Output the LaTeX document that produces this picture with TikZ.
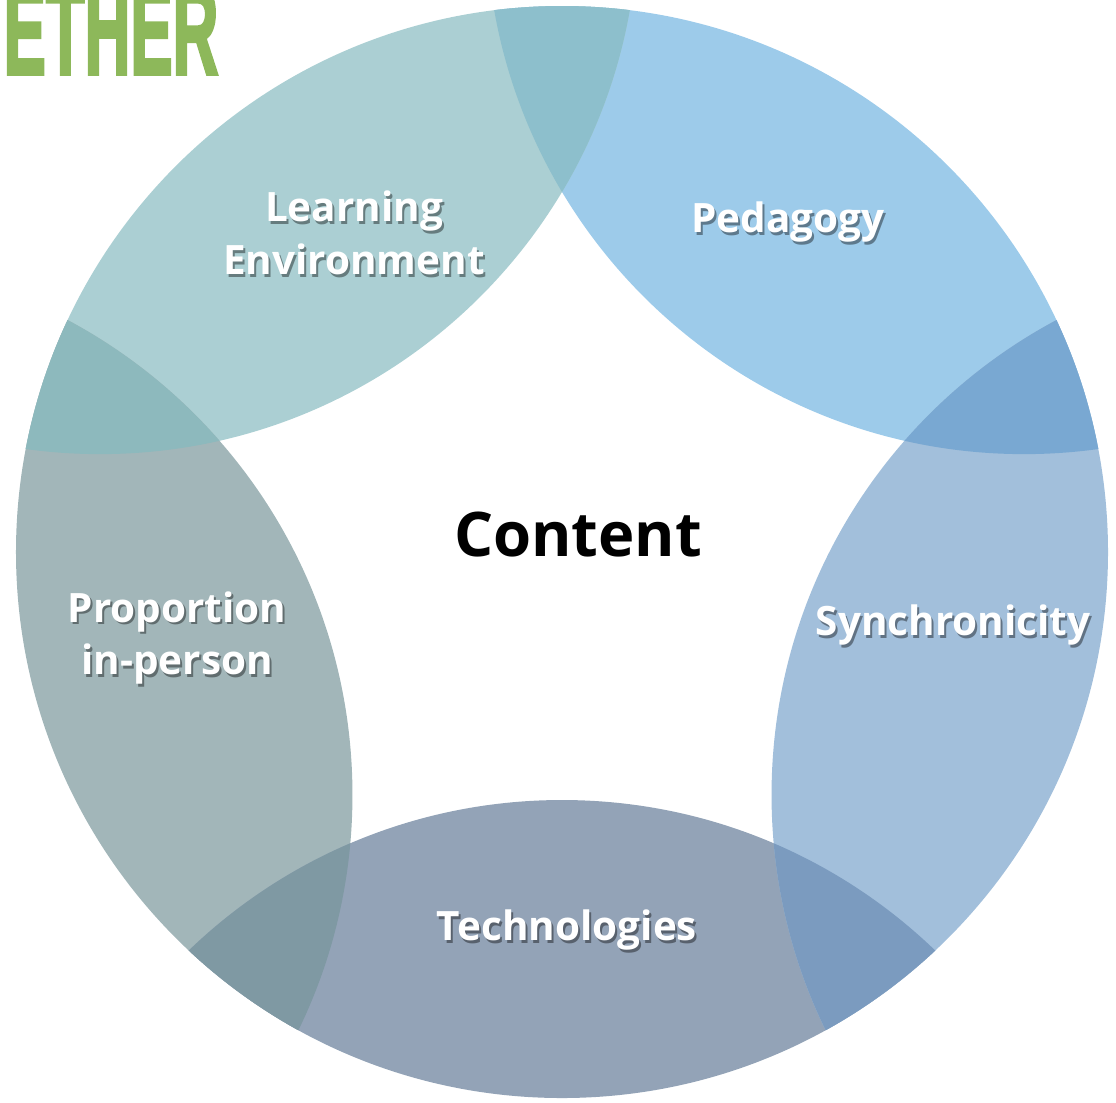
\documentclass[tikz,border=0pt]{standalone}
\usepackage{fontspec}
\setmainfont{Open Sans}
\newfontfamily\etherfont[FakeBold=3]{Liberation Sans}
\usepackage{xcolor}

%cores das petalas
\definecolor{corAMB}{HTML}{ABCFD3}
\definecolor{corPED}{HTML}{9DCBEA}
\definecolor{corSIN}{HTML}{A2BFDB}
\definecolor{corTEC}{HTML}{93A3B7}
\definecolor{corPROP}{HTML}{A2B6B9}
%cores das sobreposicoes
\definecolor{sobCima}{HTML}{8DBFCC}
\definecolor{sobEsq}{HTML}{8DB9BD}
\definecolor{sobBaixoEsq}{HTML}{7F99A3}
\definecolor{sobBaixoDir}{HTML}{7B9BBF}
\definecolor{sobDir}{HTML}{79A8D2}
\definecolor{verdeEther}{HTML}{8DB85A}

\tikzset{
  rotulo/.style={font=\bfseries\fontsize{11.5}{15}\selectfont, text=white, align=center, inner sep=0pt},
  sombra/.style={rotulo, text=black, text opacity=0.4},
}

%rotulo branco com sombra cinza
\newcommand{\rotulopetala}[3]{%
  \node[sombra, xshift=0.02cm, yshift=-0.025cm] at (#1) {#3};
  \node[rotulo] (#2) at (#1) {#3};
}

\begin{document}
\begin{tikzpicture}[x=0.01cm, y=0.01cm] %1 unidade = 1 pixel da figura

\useasboundingbox (-562,-550) rectangle (554,552);

%----------------------------------------------------
%Texto cortado no canto superior esquerdo
%----------------------------------------------------
\node[anchor=base west, inner sep=0pt, text=verdeEther] (ETHER) at (-559,478)
  {\scalebox{0.53}[1.05]{\etherfont\bfseries\fontsize{34}{34}\selectfont ETHER}};

%----------------------------------------------------
%Desenhar as cinco petalas e as sobreposicoes
%----------------------------------------------------
\begin{scope}
  \clip (0,0) circle (546); %circulo externo
  \foreach \ang/\cor in {54/corPED, 126/corAMB, 198/corPROP, 270/corTEC, 342/corSIN}
    \fill[\cor] (\ang:786) circle (538); %cada petala e um circulo cortado pelo externo
  \foreach \a/\b/\cor in {54/126/sobCima, 126/198/sobEsq, 198/270/sobBaixoEsq, 270/342/sobBaixoDir, 342/414/sobDir}
  {
    \begin{scope}
      \clip (\a:786) circle (538);
      \fill[\cor] (\b:786) circle (538); %parte comum de duas petalas vizinhas
    \end{scope}
  }
\end{scope}

%----------------------------------------------------
%Rotulos
%----------------------------------------------------
\rotulopetala{-208,319}{AMB}{Learning\\Environment}
\rotulopetala{226,330}{PED}{Pedagogy}
\rotulopetala{391,-73}{SIN}{Synchronicity}
\rotulopetala{5,-378}{TEC}{Technologies}
\rotulopetala{-385,-86}{PROP}{Proportion\\in-person}

\node[font=\bfseries\fontsize{17.5}{20}\selectfont, inner sep=0pt] (CONT) at (16,17) {Content}; %centro

\end{tikzpicture}
\end{document}
